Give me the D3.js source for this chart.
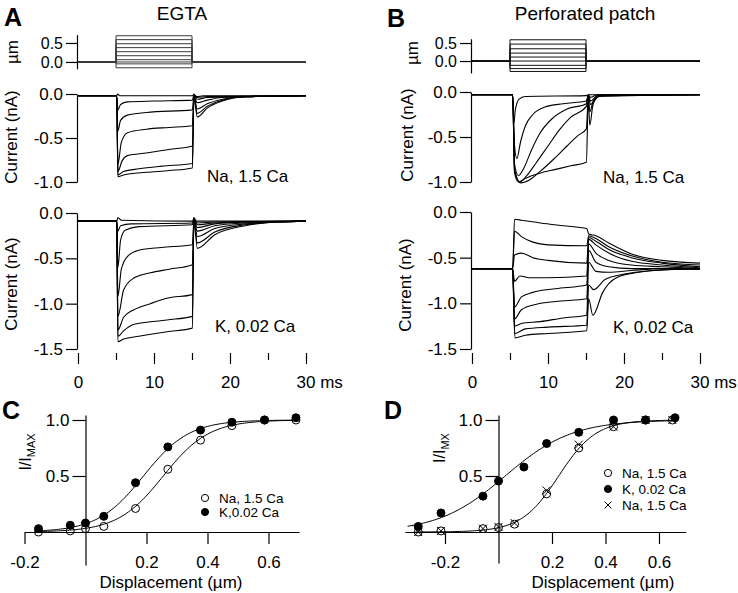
<!DOCTYPE html>
<html>
<head>
<meta charset="utf-8">
<script src="https://cdn.jsdelivr.net/npm/d3@7"></script>
<style>
body { margin: 0; background: #fff; }
svg text { font-family: Arial, "Liberation Sans", sans-serif; fill: #000; }
</style>
</head>
<body>
<svg id="fig" width="738" height="593"></svg>
<script>
// time axis (ms) and stimulus steps (um)
var timeTicks = [0, 5, 10, 15, 20, 25, 30];
var stepOn = 5, stepOff = 15;
var stimA = [-0.154, -0.05, 0, 0.06, 0.164, 0.27, 0.377, 0.48, 0.587, 0.69];
var stimB = [-0.29, -0.21, -0.12, 0, 0.11, 0.22, 0.34, 0.47, 0.59];

// current traces, [ms, nA]
var naEgta = [
  [[0,-0.02],[5.1,-0.02],[5.2,0.0],[5.5,-0.02],[15.1,-0.02],[15.25,0.0],[15.6,-0.03],[16.5,-0.02],[30,-0.02]],
  [[0,-0.02],[5.1,-0.02],[5.25,-0.18],[5.6,-0.12],[6.5,-0.09],[10,-0.08],[15.05,-0.07],[15.25,-0.01],[15.6,-0.04],[17,-0.03],[30,-0.02]],
  [[0,-0.02],[5.1,-0.02],[5.25,-0.42],[5.6,-0.3],[6.5,-0.24],[9,-0.21],[15.05,-0.18],[15.25,-0.02],[15.7,-0.06],[17,-0.04],[30,-0.02]],
  [[0,-0.02],[5.1,-0.02],[5.25,-0.8],[5.7,-0.55],[6.5,-0.44],[9,-0.4],[12,-0.38],[15.05,-0.36],[15.25,-0.03],[15.7,-0.1],[17,-0.07],[19,-0.04],[22,-0.03],[30,-0.02]],
  [[0,-0.02],[5.1,-0.02],[5.25,-0.88],[5.8,-0.76],[6.5,-0.7],[9,-0.67],[12,-0.63],[15.05,-0.59],[15.25,-0.03],[15.7,-0.17],[17,-0.11],[19,-0.06],[22,-0.03],[30,-0.02]],
  [[0,-0.02],[5.1,-0.02],[5.25,-0.92],[6,-0.88],[8,-0.85],[11,-0.82],[15.05,-0.79],[15.25,-0.04],[15.7,-0.22],[17,-0.14],[19,-0.07],[22,-0.03],[30,-0.02]],
  [[0,-0.02],[5.1,-0.02],[5.25,-0.94],[6,-0.92],[9,-0.89],[12,-0.87],[15.05,-0.84],[15.25,-0.04],[15.7,-0.26],[17,-0.16],[19,-0.08],[22,-0.03],[30,-0.02]]
];
var kEgta = [
  [[0,-0.09],[5.1,-0.09],[5.25,-0.05],[5.7,-0.08],[15.1,-0.09],[15.25,-0.05],[15.6,-0.09],[30,-0.09]],
  [[0,-0.09],[5.1,-0.09],[5.25,-0.2],[5.6,-0.14],[7,-0.12],[15.05,-0.11],[15.25,-0.07],[15.7,-0.11],[18,-0.1],[30,-0.09]],
  [[0,-0.09],[5.1,-0.09],[5.25,-0.6],[5.6,-0.3],[6.2,-0.19],[8,-0.15],[15.05,-0.13],[15.25,-0.07],[15.7,-0.13],[18,-0.11],[30,-0.09]],
  [[0,-0.09],[5.1,-0.09],[5.25,-0.92],[5.7,-0.62],[6.5,-0.48],[8,-0.41],[11,-0.38],[15.05,-0.35],[15.25,-0.08],[15.7,-0.16],[18,-0.12],[22,-0.1],[30,-0.09]],
  [[0,-0.09],[5.1,-0.09],[5.25,-1.14],[6,-0.85],[7.3,-0.72],[9.5,-0.66],[12,-0.62],[15.05,-0.57],[15.25,-0.08],[15.7,-0.2],[18,-0.14],[22,-0.11],[26,-0.1],[30,-0.09]],
  [[0,-0.09],[5.1,-0.09],[5.25,-1.29],[6,-1.15],[7.3,-1.07],[9.5,-1.0],[11.7,-0.94],[15.05,-0.9],[15.25,-0.08],[15.7,-0.26],[18,-0.17],[22,-0.12],[26,-0.1],[30,-0.09]],
  [[0,-0.09],[5.1,-0.09],[5.25,-1.36],[6,-1.3],[7.3,-1.23],[11.7,-1.18],[15.05,-1.14],[15.25,-0.08],[15.7,-0.33],[18,-0.21],[22,-0.13],[26,-0.1],[30,-0.09]],
  [[0,-0.09],[5.1,-0.09],[5.25,-1.42],[6,-1.39],[8,-1.36],[11.7,-1.31],[15.05,-1.27],[15.25,-0.08],[15.7,-0.39],[18,-0.24],[22,-0.14],[26,-0.1],[30,-0.09]]
];
var naPerf = [
  [[0,-0.03],[5.35,-0.03],[5.5,-0.35],[5.7,-0.2],[6.2,-0.08],[7,-0.05],[15.05,-0.04],[15.3,-0.03],[30,-0.03]],
  [[0,-0.03],[5.35,-0.03],[5.6,-0.6],[5.9,-0.74],[6.4,-0.55],[7,-0.38],[8,-0.25],[9.5,-0.17],[12,-0.13],[15.05,-0.1],[15.3,-0.03],[15.6,-0.06],[16.5,-0.03],[30,-0.03]],
  [[0,-0.03],[5.35,-0.03],[5.6,-0.8],[6.1,-0.93],[6.8,-0.85],[7.8,-0.65],[9,-0.45],[10.5,-0.3],[12.5,-0.19],[15.05,-0.13],[15.3,-0.03],[15.6,-0.1],[16.5,-0.04],[30,-0.03]],
  [[0,-0.03],[5.35,-0.03],[5.6,-0.85],[6.3,-1.0],[7.2,-0.93],[8.5,-0.78],[10,-0.6],[11.5,-0.42],[13,-0.28],[15.05,-0.16],[15.3,-0.03],[15.6,-0.14],[16.5,-0.05],[30,-0.03]],
  [[0,-0.03],[5.35,-0.03],[5.6,-0.88],[6.4,-1.01],[7.5,-0.98],[9,-0.88],[10.7,-0.75],[12.5,-0.6],[14,-0.48],[15.05,-0.41],[15.3,-0.04],[15.5,-0.22],[16,-0.09],[17,-0.04],[30,-0.03]],
  [[0,-0.03],[5.35,-0.03],[5.6,-0.9],[6.1,-1.0],[7,-0.96],[9,-0.9],[11,-0.86],[13,-0.82],[15.05,-0.78],[15.3,-0.08],[15.5,-0.37],[15.9,-0.15],[16.5,-0.06],[17.5,-0.03],[30,-0.03]]
];
var kPerf = [
  [[0,-0.62],[5.35,-0.62],[5.6,-0.08],[6.5,-0.09],[9,-0.12],[12,-0.15],[15.1,-0.18],[15.35,-0.24],[16.3,-0.26],[18,-0.34],[21,-0.46],[25,-0.53],[30,-0.56]],
  [[0,-0.62],[5.35,-0.62],[5.6,-0.21],[6.5,-0.27],[8,-0.33],[10,-0.36],[15.1,-0.37],[15.35,-0.26],[16.3,-0.29],[18,-0.38],[21,-0.48],[25,-0.55],[30,-0.58]],
  [[0,-0.62],[5.35,-0.62],[5.6,-0.47],[6.5,-0.45],[8,-0.5],[10,-0.53],[15.1,-0.56],[15.35,-0.28],[16.3,-0.32],[18,-0.41],[21,-0.5],[25,-0.56],[30,-0.6]],
  [[0,-0.62],[5.35,-0.62],[5.6,-0.76],[6.3,-0.7],[7.5,-0.72],[10,-0.72],[15.1,-0.7],[15.35,-0.3],[16.3,-0.36],[18,-0.45],[21,-0.54],[25,-0.58],[30,-0.61]],
  [[0,-0.62],[5.35,-0.62],[5.6,-1.04],[6.5,-0.93],[8,-0.88],[11,-0.84],[15.1,-0.8],[15.35,-0.35],[16.3,-0.45],[18,-0.53],[21,-0.58],[25,-0.6],[30,-0.62]],
  [[0,-0.62],[5.35,-0.62],[5.6,-1.17],[6.5,-1.07],[8.5,-1.01],[11,-0.98],[15.1,-0.95],[15.35,-0.42],[16.3,-0.55],[18,-0.6],[21,-0.62],[25,-0.62],[30,-0.63]],
  [[0,-0.62],[5.35,-0.62],[5.6,-1.25],[6.5,-1.22],[9,-1.2],[12,-1.16],[15.1,-1.13],[15.35,-0.55],[16.3,-0.65],[18,-0.66],[21,-0.64],[25,-0.62],[30,-0.62]],
  [[0,-0.62],[5.35,-0.62],[5.6,-1.33],[7,-1.28],[10,-1.26],[15.1,-1.24],[15.35,-0.8],[16,-0.85],[17.5,-0.74],[20,-0.68],[24,-0.64],[30,-0.62]],
  [[0,-0.62],[5.35,-0.62],[5.65,-1.38],[7,-1.35],[10,-1.33],[15.1,-1.3],[15.35,-0.95],[15.9,-1.13],[17.2,-0.88],[19,-0.72],[22,-0.66],[26,-0.63],[30,-0.62]]
];

// activation curves: displacement (um) vs I/Imax
var dispC = [-0.154, -0.05, 0, 0.06, 0.164, 0.27, 0.377, 0.48, 0.587, 0.69];
var naC = [0.0, 0.01, 0.03, 0.05, 0.21, 0.56, 0.82, 0.95, 1.0, 1.0];
var kC = [0.03, 0.06, 0.08, 0.14, 0.44, 0.76, 0.91, 0.98, 1.0, 1.02];
var dispD = [-0.30, -0.215, -0.058, 0, 0.06, 0.18, 0.30, 0.43, 0.55, 0.65];
var dispDK = [-0.30, -0.215, -0.058, 0, 0.095, 0.18, 0.30, 0.43, 0.55, 0.66];
var naD = [0.0, 0.01, 0.03, 0.04, 0.07, 0.34, 0.75, 0.94, 1.0, 1.0];
var kD = [0.05, 0.17, 0.32, 0.455, 0.58, 0.79, 0.89, 1.0, 1.0, 1.02];
var naD2 = [0.0, 0.01, 0.03, 0.045, 0.08, 0.37, 0.78, 0.94, 1.0, 1.0];
// Boltzmann fits: [x half, slope, x from, x to]
var fitNaC = [0.255, 0.075, -0.16, 0.70];
var fitKC = [0.19, 0.075, -0.16, 0.70];
var fitKD = [0.025, 0.125, -0.34, 0.67];
var fitNaD = [0.225, 0.07, -0.31, 0.67];

var svg = d3.select("#fig");
var fontFam = "Arial, 'Liberation Sans', sans-serif";
var tickFont = 17, labFont = 17;

function text(x, y, s, size, anchor, weight) {
  return svg.append("text")
    .attr("x", x).attr("y", y)
    .attr("font-size", size)
    .attr("text-anchor", anchor || "start")
    .attr("font-weight", weight || "normal")
    .text(s);
}

function vlabel(x, y, s, size) {
  return svg.append("text")
    .attr("transform", "translate(" + x + "," + y + ") rotate(-90)")
    .attr("font-size", size)
    .attr("text-anchor", "middle")
    .text(s);
}

function fmt1(d) { return d.toFixed(1); }

function leftAxis(y, x0, ticks, fs) {
  var g = svg.append("g")
    .attr("transform", "translate(" + x0 + ",0)")
    .call(d3.axisLeft(y).tickValues(ticks).tickFormat(fmt1)
      .tickSize(11).tickSizeOuter(0).tickPadding(3));
  g.attr("font-size", fs || tickFont).attr("font-family", fontFam);
  g.selectAll("path, line").attr("stroke", "#000").attr("stroke-width", 1.2);
  return g;
}

function timeAxis(x, y0) {
  var g = svg.append("g")
    .attr("transform", "translate(0," + y0 + ")")
    .call(d3.axisBottom(x).tickValues(timeTicks).tickSizeOuter(0)
      .tickFormat(function(d) { return d % 10 ? "" : (d === 30 ? "30 ms" : d); }));
  g.attr("font-size", tickFont).attr("font-family", fontFam);
  g.select(".domain").remove();
  g.selectAll(".tick line")
    .attr("stroke", "#000").attr("stroke-width", 1.2)
    .attr("y2", function(d) { return d % 10 ? 7 : 11; });
  g.selectAll(".tick text").attr("y", 23);
  g.selectAll(".tick text").filter(function(d) { return d === 30; })
    .attr("text-anchor", "start").attr("dx", -10);
}

function stimulus(x, y, steps, color) {
  var line = d3.line().x(function(d) { return x(d[0]); }).y(function(d) { return y(d[1]); });
  steps.forEach(function(v) {
    var pts = [[0, 0], [stepOn, 0], [stepOn, v], [stepOff, v], [stepOff, 0], [30, 0]];
    svg.append("path").attr("d", line(pts))
      .attr("fill", "none").attr("stroke", color).attr("stroke-width", 1);
  });
}

function traces(x, y, data) {
  var line = d3.line()
    .x(function(d) { return x(d[0]); })
    .y(function(d) { return y(d[1]); })
    .curve(d3.curveMonotoneX);
  svg.append("g").selectAll("path")
    .data(data).enter().append("path")
    .attr("d", line)
    .attr("fill", "none").attr("stroke", "#000").attr("stroke-width", 1.1);
}

// ---------- A: EGTA ----------
var xA = d3.scaleLinear().domain([0, 30]).range([78, 306]);
var sA = d3.scaleLinear().domain([-0.18, 0.72]).range([68.8, 34.6]);
var yA1 = d3.scaleLinear().domain([0, -1]).range([94, 182]);
var yA2 = d3.scaleLinear().domain([0, -1.5]).range([213, 349]);

stimulus(xA, sA, stimA, "#3a3a3a");
leftAxis(sA, 77, [0, 0.5], 16);
traces(xA, yA1, naEgta);
leftAxis(yA1, 77, [0, -0.5, -1.0]);
traces(xA, yA2, kEgta);
leftAxis(yA2, 77, [0, -0.5, -1.0, -1.5]);
timeAxis(xA, 353);

// ---------- B: perforated patch ----------
var xB = d3.scaleLinear().domain([0, 30]).range([472, 700]);
var sB = d3.scaleLinear().domain([-0.33, 0.62]).range([72.9, 38.7]);
var yB1 = d3.scaleLinear().domain([0, -1]).range([92, 182]);
var yB2 = d3.scaleLinear().domain([0, -1.5]).range([212, 349]);

stimulus(xB, sB, stimB, "#111");
leftAxis(sB, 471, [0, 0.5], 16);
traces(xB, yB1, naPerf);
leftAxis(yB1, 471, [0, -0.5, -1.0]);
traces(xB, yB2, kPerf);
leftAxis(yB2, 471, [0, -0.5, -1.0, -1.5]);
timeAxis(xB, 353);

// ---------- C and D: activation ----------
function boltz(p) {
  return d3.range(0, 121).map(function(i) {
    var xv = p[2] + (p[3] - p[2]) * i / 120;
    return [xv, 1 / (1 + Math.exp(-(xv - p[0]) / p[1]))];
  });
}

function activation(x, y, yTop, yBot, xTicks) {
  var xa = svg.append("g").attr("transform", "translate(0," + y(0) + ")")
    .call(d3.axisBottom(x).tickValues(xTicks).tickFormat(fmt1)
      .tickSize(12).tickSizeOuter(0).tickPadding(12));
  xa.attr("font-size", tickFont).attr("font-family", fontFam);
  xa.selectAll("path, line").attr("stroke", "#000").attr("stroke-width", 1.2);
  var yl = d3.scaleLinear().domain([y.invert(yBot), y.invert(yTop)]).range([yBot, yTop]);
  var ya = svg.append("g").attr("transform", "translate(" + x(0) + ",0)")
    .call(d3.axisLeft(yl).tickValues([0.5, 1.0]).tickFormat(fmt1)
      .tickSize(13).tickSizeOuter(0).tickPadding(3));
  ya.attr("font-size", tickFont).attr("font-family", fontFam);
  ya.selectAll("path, line").attr("stroke", "#000").attr("stroke-width", 1.2);
}

function fitLine(x, y, p) {
  var line = d3.line().x(function(d) { return x(d[0]); }).y(function(d) { return y(d[1]); });
  svg.append("path").attr("d", line(boltz(p)))
    .attr("fill", "none").attr("stroke", "#000").attr("stroke-width", 1);
}

function dots(x, y, xs, ys, kind) {
  var g = svg.append("g");
  xs.forEach(function(xv, i) {
    if (kind === "cross") {
      g.append("path")
        .attr("transform", "translate(" + x(xv) + "," + y(ys[i]) + ")")
        .attr("d", "M-4,-4L4,4M4,-4L-4,4")
        .attr("stroke", "#000").attr("stroke-width", 1).attr("fill", "none");
    } else {
      g.append("circle").attr("cx", x(xv)).attr("cy", y(ys[i])).attr("r", 4)
        .attr("fill", kind === "open" ? "#fff" : "#000")
        .attr("fill-opacity", kind === "open" ? 0 : 1)
        .attr("stroke", "#000").attr("stroke-width", 1);
    }
  });
}

function legendRow(x, y, kind, label) {
  if (kind === "cross") {
    svg.append("path").attr("transform", "translate(" + x + "," + y + ")")
      .attr("d", "M-3.5,-3.5L3.5,3.5M3.5,-3.5L-3.5,3.5")
      .attr("stroke", "#000").attr("fill", "none");
  } else {
    svg.append("circle").attr("cx", x).attr("cy", y).attr("r", 3.6)
      .attr("fill", kind === "open" ? "#fff" : "#000").attr("stroke", "#000");
  }
  text(x + 14, y + 4.6, label, 13.5);
}

var xC = d3.scaleLinear().domain([0, 0.2]).range([85.5, 146.5]);
var yC = d3.scaleLinear().domain([0, 1]).range([532, 420]);
activation(d3.scaleLinear().domain([-0.2, 0.70]).range([xC(-0.2), xC(0.70)]), yC, 415, 565, [-0.2, 0.2, 0.4, 0.6]);
fitLine(xC, yC, fitNaC);
fitLine(xC, yC, fitKC);
dots(xC, yC, dispC, naC, "open");
dots(xC, yC, dispC, kC, "filled");
legendRow(205, 498, "open", "Na, 1.5 Ca");
legendRow(205, 512, "filled", "K,0.02 Ca");

var xD = d3.scaleLinear().domain([0, 0.2]).range([498.5, 552]);
var yD = d3.scaleLinear().domain([0, 1]).range([532, 420]);
activation(d3.scaleLinear().domain([-0.35, 0.70]).range([xD(-0.35), xD(0.70)]), yD, 415, 563, [-0.2, 0.2, 0.4, 0.6]);
fitLine(xD, yD, fitKD);
fitLine(xD, yD, fitNaD);
dots(xD, yD, dispD, naD, "open");
dots(xD, yD, dispD, naD2, "cross");
dots(xD, yD, dispDK, kD, "filled");
legendRow(608, 473, "open", "Na, 1.5 Ca");
legendRow(608, 489, "filled", "K, 0.02 Ca");
legendRow(608, 505, "cross", "Na, 1.5 Ca");

// ---------- labels ----------
text(4, 26, "A", 25, "start", "bold");
text(387, 27, "B", 25, "start", "bold");
text(2, 419, "C", 25, "start", "bold");
text(384, 419, "D", 25, "start", "bold");
text(182, 20, "EGTA", 19, "middle");
text(585, 20, "Perforated patch", 19, "middle");

vlabel(18, 52, "\u00b5m", labFont);
vlabel(418, 53, "\u00b5m", labFont);
vlabel(17, 137, "Current (nA)", labFont);
vlabel(17, 284, "Current (nA)", labFont);
vlabel(413, 135, "Current (nA)", labFont);
vlabel(411, 285, "Current (nA)", labFont);

text(207, 182, "Na, 1.5 Ca", labFont);
text(603, 183, "Na, 1.5 Ca", labFont);
text(215, 332, "K, 0.02 Ca", labFont);
text(613, 333, "K, 0.02 Ca", labFont);

text(171, 588, "Displacement (\u00b5m)", labFont, "middle");
text(603, 588, "Displacement (\u00b5m)", labFont, "middle");

var lc = svg.append("text").attr("transform", "translate(31,452) rotate(-90)")
  .attr("font-size", 16).attr("text-anchor", "middle");
lc.append("tspan").text("I/I");
lc.append("tspan").attr("font-size", 11).attr("dy", "0.35em").text("MAX");
var ld = svg.append("text").attr("transform", "translate(445,448) rotate(-90)")
  .attr("font-size", 16).attr("text-anchor", "middle");
ld.append("tspan").text("I/I");
ld.append("tspan").attr("font-size", 11).attr("dy", "0.35em").text("MX");
</script>
</body>
</html>
